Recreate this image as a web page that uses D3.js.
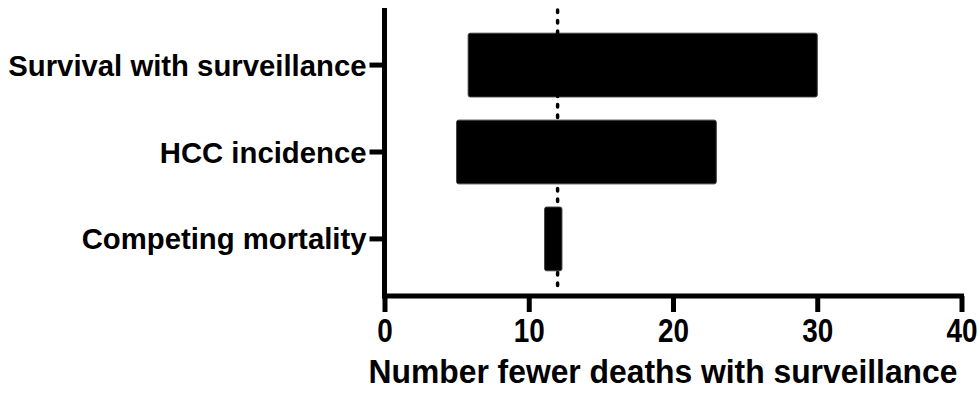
<!DOCTYPE html>
<html>
<head>
<meta charset="utf-8">
<script src="https://cdn.jsdelivr.net/npm/d3@7"></script>
<style>
  html, body { margin: 0; padding: 0; background: #fff; }
  svg { display: block; }
  text { font-family: "Liberation Sans", Arial, Helvetica, sans-serif; font-weight: bold; fill: #000; }
</style>
</head>
<body>
<svg id="chart" width="980" height="396"></svg>
<script>
// ---- data ----
const categories = ["Survival with surveillance", "HCC incidence", "Competing mortality"];
const lowValues  = [5.8, 5.0, 11.1];
const highValues = [30.0, 23.0, 12.3];
const referenceValue = 12;
const xTicks = [0, 10, 20, 30, 40];
const xTitle = "Number fewer deaths with surveillance";

// ---- layout ----
const svg = d3.select("#chart");
const plotLeft = 384.5, plotRight = 961.5, plotTop = 8, plotBottom = 296;

const x = d3.scaleLinear().domain([0, 40]).range([plotLeft, plotRight]);
const y = d3.scaleBand().domain(categories).range([plotTop, plotBottom])
  .paddingInner(0.267).paddingOuter(0.29);

// bars
svg.append("g").selectAll("rect")
  .data(categories)
  .join("rect")
  .attr("x", (d, i) => x(lowValues[i]))
  .attr("y", d => y(d))
  .attr("width", (d, i) => x(highValues[i]) - x(lowValues[i]))
  .attr("height", y.bandwidth())
  .attr("rx", 2)
  .attr("fill", "#000")
  .attr("stroke", "#3a3a3a")
  .attr("stroke-width", 1);

// reference dotted line
svg.append("line")
  .attr("x1", x(referenceValue)).attr("x2", x(referenceValue))
  .attr("y1", plotTop + 2).attr("y2", plotBottom - 4)
  .attr("stroke", "#000")
  .attr("stroke-width", 3.5)
  .attr("stroke-dasharray", "2.5,8")
  .attr("stroke-linecap", "round");

// x axis
const xAxis = d3.axisBottom(x).tickValues(xTicks).tickSize(16).tickFormat(d3.format("d"));
const gx = svg.append("g").attr("transform", `translate(0,${plotBottom})`).call(xAxis);
gx.select(".domain").attr("d", `M${plotLeft - 2.5},0H${plotRight + 2.5}`).attr("stroke", "#000").attr("stroke-width", 5);
gx.selectAll(".tick line").attr("stroke", "#000").attr("stroke-width", 5);
gx.selectAll(".tick text")
  .attr("font-size", 34)
  .attr("font-family", "'Liberation Sans', Arial, sans-serif")
  .attr("font-weight", "bold")
  .attr("fill", "#000")
  .attr("dy", null)
  .attr("y", 0)
  .attr("transform", "translate(0,46) scale(0.82,1)");

// y axis
const yAxis = d3.axisLeft(y).tickSize(15).tickPadding(3);
const gy = svg.append("g").attr("transform", `translate(${plotLeft},0)`).call(yAxis);
gy.select(".domain").attr("d", `M0,${plotTop}V${plotBottom + 2.5}`).attr("stroke", "#000").attr("stroke-width", 5);
gy.selectAll(".tick line").attr("stroke", "#000").attr("stroke-width", 5);
gy.selectAll(".tick text")
  .attr("font-size", 29.3)
  .attr("font-family", "'Liberation Sans', Arial, sans-serif")
  .attr("font-weight", "bold")
  .attr("fill", "#000")
  .attr("dy", "0.36em");

// x title
const titleX = 663, titleY = 383;
svg.append("text")
  .attr("text-anchor", "middle")
  .attr("font-size", 33)
  .attr("transform", `translate(${titleX},${titleY}) scale(0.965,1)`)
  .text(xTitle);
</script>
</body>
</html>
